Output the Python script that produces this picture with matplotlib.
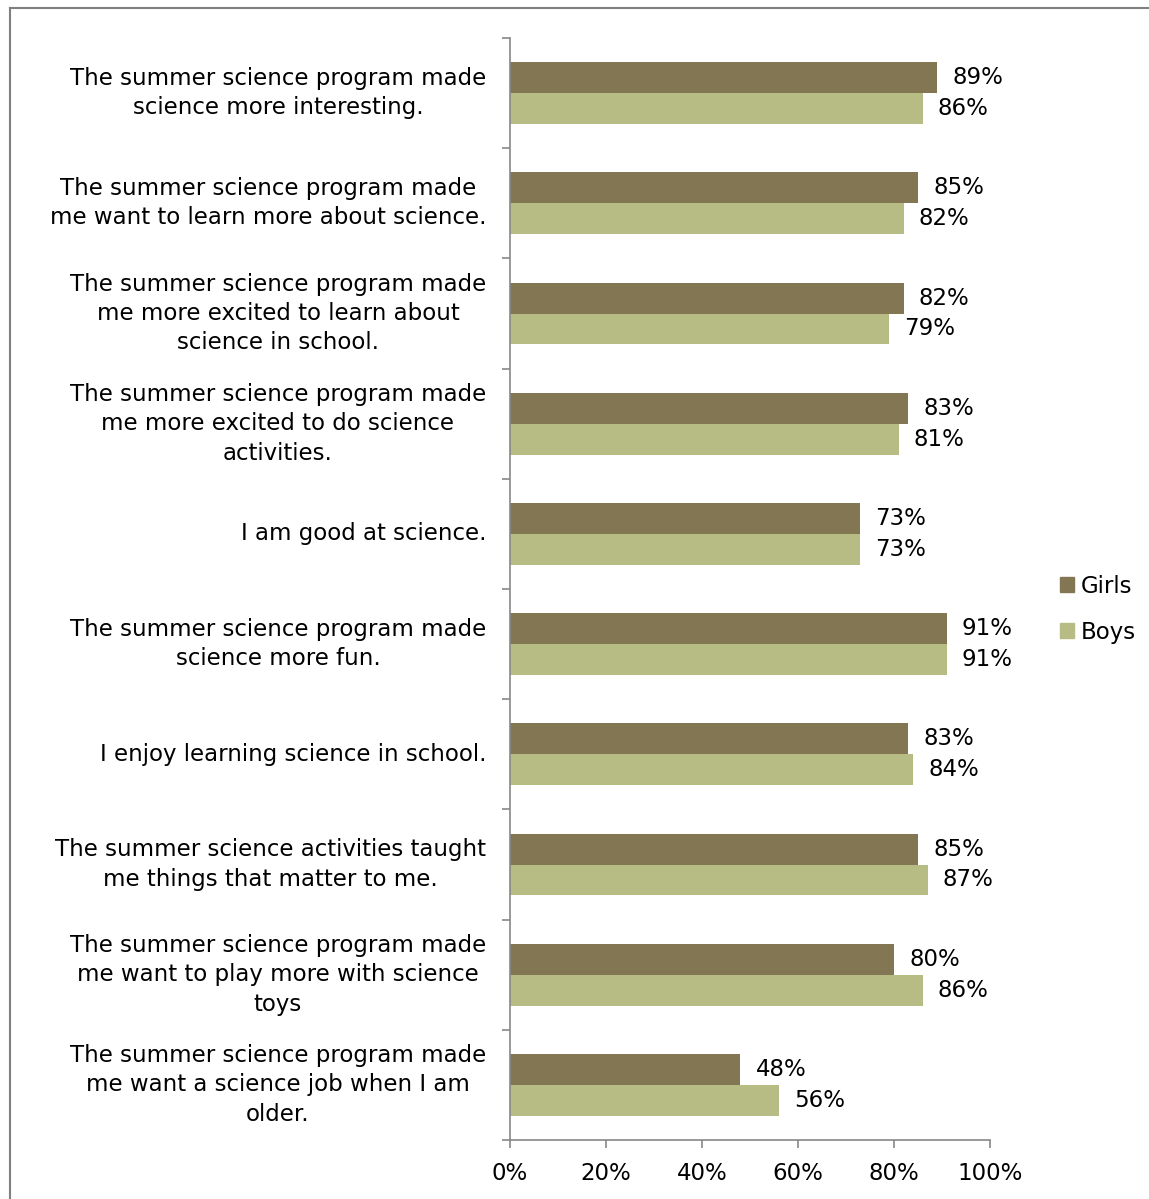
import matplotlib.pyplot as plt
import matplotlib.patches as mpatches
import numpy as np

categories = [
    "The summer science program made\nscience more interesting.",
    "The summer science program made\nme want to learn more about science.",
    "The summer science program made\nme more excited to learn about\nscience in school.",
    "The summer science program made\nme more excited to do science\nactivities.",
    "I am good at science.",
    "The summer science program made\nscience more fun.",
    "I enjoy learning science in school.",
    "The summer science activities taught\nme things that matter to me.",
    "The summer science program made\nme want to play more with science\ntoys",
    "The summer science program made\nme want a science job when I am\nolder.",
]
girls = [89, 85, 82, 83, 73, 91, 83, 85, 80, 48]
boys = [86, 82, 79, 81, 73, 91, 84, 87, 86, 56]
xticks = [0, 20, 40, 60, 80, 100]

GIRLS_C = '#837753'
BOYS_C = '#b7bc85'
AXIS_C = '#888888'

plt.rcParams['font.family'] = ['DejaVu Sans']

fig = plt.figure(figsize=(11.49, 11.99), dpi=100)
ax = fig.add_axes([0.4439, 0.0492, 0.4178, 0.9191])

n = len(categories)
y = np.arange(n)
h = 0.28
ax.barh(y - h / 2, girls, height=h, color=GIRLS_C, label='Girls')
ax.barh(y + h / 2, boys, height=h, color=BOYS_C, label='Boys')

fs = 16.5
for i in range(n):
    ax.annotate(f"{girls[i]}%", (girls[i], y[i] - h / 2), xytext=(15, 0),
                textcoords='offset pixels', va='center', fontsize=fs)
    ax.annotate(f"{boys[i]}%", (boys[i], y[i] + h / 2), xytext=(15, 0),
                textcoords='offset pixels', va='center', fontsize=fs)
    ax.annotate(categories[i], (0, y[i]), xytext=(-24, 0), textcoords='offset pixels',
                ha='right', va='center', multialignment='center', fontsize=fs,
                linespacing=1.35, annotation_clip=False)

ax.set_ylim(n - 0.5, -0.5)
ax.set_xlim(0, 100)
ax.set_xticks(xticks)
ax.set_xticklabels([f"{t}%" for t in xticks], fontsize=fs)
ax.set_yticks(np.arange(n + 1) - 0.5)
ax.set_yticklabels([])
ax.tick_params(axis='both', colors=AXIS_C, labelcolor='black', length=6, width=1.2)
ax.tick_params(axis='x', pad=10)
for s in ['top', 'right']:
    ax.spines[s].set_visible(False)
for s in ['left', 'bottom']:
    ax.spines[s].set_color(AXIS_C)
    ax.spines[s].set_linewidth(1.2)

handles = [mpatches.Patch(color=GIRLS_C, label='Girls'),
           mpatches.Patch(color=BOYS_C, label='Boys')]
fig.legend(handles=handles, loc='center left', bbox_to_anchor=(0.905, 0.492),
           frameon=False, fontsize=fs, handlelength=0.6, handleheight=0.6,
           handletextpad=0.3, labelspacing=1.0)

# outer frame
fig.add_artist(plt.Line2D([10 / 1149, 10 / 1149], [0, 1 - 8 / 1199], color='#808080', lw=1.5))
fig.add_artist(plt.Line2D([10 / 1149, 1], [1 - 8 / 1199, 1 - 8 / 1199], color='#808080', lw=1.5))

fig.savefig('out.png', dpi=100)
